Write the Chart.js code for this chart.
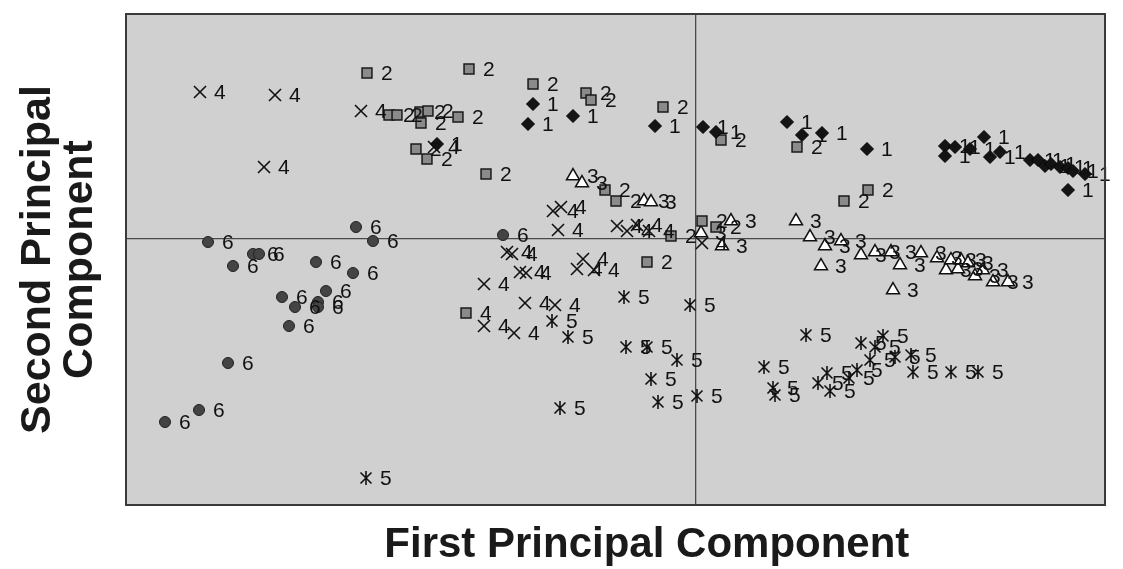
<!DOCTYPE html>
<html><head><meta charset="utf-8">
<script src="https://cdn.jsdelivr.net/npm/chart.js@4.4.1/dist/chart.umd.min.js"></script>
<style>html,body{margin:0;padding:0;background:#fff}#wrap{width:1123px;height:569px;position:relative}</style>
</head><body><div id="wrap"><canvas id="c"></canvas></div>
<script>
const xTitle = 'First Principal Component';
const yTitle = ['Second Principal', 'Component'];
const xRange = [-5.70, 4.09];
const yRange = [-2.66, 2.25];

// [PC1, PC2, optional label]
const group1 = [[-1.63,1.35],[-1.68,1.15],[-1.23,1.23],[-2.59,0.95],[-0.41,1.13],[0.07,1.12],[0.20,1.07],[0.91,1.17],[1.06,1.04],[1.26,1.06],[1.71,0.90],[2.49,0.93],[2.49,0.83],[2.59,0.92],[2.74,0.90],[2.88,1.02],[2.94,0.82],[3.04,0.87],[3.34,0.79],[3.42,0.79],[3.49,0.73],[3.55,0.75],[3.64,0.72],[3.72,0.71],[3.77,0.68],[3.89,0.65],[3.72,0.49]];
const group2 = [[-3.29,1.66],[-2.27,1.70],[-1.63,1.55],[-1.10,1.46],[-1.05,1.39],[-0.33,1.32],[-3.07,1.24],[-2.99,1.24],[-2.76,1.27],[-2.68,1.28],[-2.75,1.16],[-2.38,1.22],[-2.80,0.90],[-2.69,0.80],[-2.10,0.65],[0.25,0.99],[1.01,0.92],[-0.91,0.49],[-0.80,0.38],[0.06,0.18],[0.20,0.12],[-0.25,0.03],[-0.49,-0.23],[-2.30,-0.74,'4'],[1.48,0.38],[1.72,0.49]];
const group3 = [[-1.23,0.63],[-1.14,0.56],[-0.52,0.38],[-0.45,0.37],[0.05,0.06],[0.35,0.18],[0.26,-0.07],[1.00,0.18],[1.14,0.02],[1.29,-0.07],[1.45,-0.02],[1.25,-0.27],[1.65,-0.16],[1.79,-0.13],[1.95,-0.13],[2.04,-0.26],[2.25,-0.14],[2.41,-0.19],[2.50,-0.31],[2.55,-0.21],[2.62,-0.30],[2.65,-0.21],[2.72,-0.24],[2.79,-0.37],[2.87,-0.31],[2.97,-0.43],[3.12,-0.43],[1.97,-0.51]];
const group4 = [[-4.96,1.47],[-4.21,1.44],[-4.32,0.72],[-3.35,1.28],[-2.62,0.92],[-1.43,0.28],[-1.35,0.32],[-1.38,0.09],[-1.89,-0.13],[-1.84,-0.15],[-1.76,-0.33],[-1.70,-0.34],[-2.12,-0.45],[-1.71,-0.64],[-1.41,-0.66],[-2.12,-0.87],[-1.82,-0.94],[-1.19,-0.30],[-1.13,-0.20],[-1.02,-0.31],[-0.79,0.13],[-0.69,0.08],[-0.59,0.14],[-0.47,0.08],[0.06,-0.04]];
const group5 = [[-1.44,-0.82],[-1.28,-0.98],[-1.36,-1.69],[-3.30,-2.39],[-0.72,-0.58],[-0.06,-0.66],[1.10,-0.96],[-0.70,-1.08],[-0.49,-1.08],[-0.19,-1.21],[-0.45,-1.40],[-0.38,-1.63],[0.01,-1.57],[0.68,-1.28],[0.77,-1.49],[0.79,-1.56],[1.22,-1.44],[1.31,-1.34],[1.34,-1.52],[1.53,-1.39],[1.61,-1.31],[1.65,-1.04],[1.87,-0.97],[1.74,-1.21],[1.79,-1.08],[1.99,-1.18],[2.15,-1.16],[2.17,-1.33],[2.55,-1.33],[2.82,-1.33]];
const group6 = [[-4.88,-0.03],[-4.43,-0.15],[-4.37,-0.15],[-4.63,-0.27],[-3.80,-0.23],[-3.40,0.12],[-3.23,-0.02],[-3.43,-0.34],[-3.70,-0.52],[-4.14,-0.58],[-4.01,-0.68],[-3.78,-0.63],[-3.78,-0.68],[-4.07,-0.87],[-4.68,-1.24],[-4.97,-1.71],[-5.31,-1.83],[-1.93,0.04]];
const groupNames = ['1','2','3','4','5','6'];

function makeStar(){
  const c = document.createElement('canvas'); c.width = 14; c.height = 16;
  const g = c.getContext('2d'); g.strokeStyle = '#111'; g.lineWidth = 1.6;
  g.beginPath(); g.moveTo(1.5,2.5); g.lineTo(12.5,13.5); g.moveTo(12.5,2.5); g.lineTo(1.5,13.5);
  g.moveTo(7,1); g.lineTo(7,15); g.stroke();
  return c;
}

function ds(points, name, style){
  return Object.assign({
    data: points.map(p => ({x: p[0], y: p[1]})),
    pointLabels: points.map(p => p[2] || name),
    showLine: false
  }, style);
}

const datasets = [
  ds(group1, groupNames[0], {pointStyle:'rectRot', pointRadius:6.5, backgroundColor:'#141414', borderColor:'#000', borderWidth:1}),
  ds(group2, groupNames[1], {pointStyle:'rect', pointRadius:7, backgroundColor:'#8a8a8a', borderColor:'#1a1a1a', borderWidth:1.5}),
  ds(group3, groupNames[2], {pointStyle:'triangle', pointRadius:7.5, backgroundColor:'#ffffff', borderColor:'#111', borderWidth:1.5}),
  ds(group4, groupNames[3], {pointStyle:'crossRot', pointRadius:8.5, backgroundColor:'#111', borderColor:'#111', borderWidth:1.6}),
  ds(group5, groupNames[4], {pointStyle:makeStar(), pointRadius:7, backgroundColor:'#111', borderColor:'#111', borderWidth:1.6}),
  ds(group6, groupNames[5], {pointStyle:'circle', pointRadius:5.5, backgroundColor:'#444', borderColor:'#222', borderWidth:1})
];

const fontFamily = '"Liberation Sans", Arial, sans-serif';
const bgPlugin = {
  id: 'plotBg',
  beforeDraw(chart){
    const {ctx, chartArea:a} = chart; ctx.save();
    ctx.fillStyle = '#d0d0d0'; ctx.fillRect(a.left, a.top, a.right-a.left, a.bottom-a.top);
    ctx.restore();
  },
  afterDraw(chart){
    const {ctx, chartArea:a} = chart; ctx.save();
    ctx.strokeStyle = '#3a3a3a'; ctx.lineWidth = 2;
    ctx.strokeRect(a.left, a.top, a.right-a.left, a.bottom-a.top);
    // x-axis title, placed as in the original figure (slightly right of the plot centre)
    ctx.font = 'bold 42px ' + fontFamily; ctx.fillStyle = '#1a1a1a';
    ctx.textAlign = 'center'; ctx.textBaseline = 'middle';
    ctx.fillText(xTitle, a.left + (a.right - a.left) * 0.532, 545);
    ctx.restore();
  }
};
const labelPlugin = {
  id: 'pointLabels',
  afterDatasetsDraw(chart){
    const ctx = chart.ctx; ctx.save();
    ctx.font = '21px ' + fontFamily;
    ctx.fillStyle = '#111'; ctx.textBaseline = 'middle'; ctx.textAlign = 'left';
    chart.data.datasets.forEach((d, i) => {
      const meta = chart.getDatasetMeta(i);
      meta.data.forEach((el, j) => ctx.fillText(d.pointLabels[j], el.x + 14, el.y + 1));
    });
    ctx.restore();
  }
};

const zeroLine = c => c.tick && Math.abs(c.tick.value) < 1e-9 ? '#4a4a4a' : 'rgba(0,0,0,0)';
const titleFont = {family:fontFamily, size:43, weight:'bold', lineHeight:0.98};

new Chart(document.getElementById('c'), {
  type: 'scatter',
  data: {datasets},
  options: {
    responsive: true, maintainAspectRatio: false, animation: false,
    layout: {padding: {left:0, right:18, top:14, bottom:0}},
    plugins: {legend:{display:false}, tooltip:{enabled:false}},
    scales: {
      x: {
        min: xRange[0], max: xRange[1],
        ticks: {display:false, stepSize:1},
        grid: {color: zeroLine, lineWidth:1.3, drawTicks:false},
        border: {display:false},
        title: {display:false, text:xTitle},
        afterFit: s => { s.height = 64; }
      },
      y: {
        min: yRange[0], max: yRange[1],
        ticks: {display:false, stepSize:1},
        grid: {color: zeroLine, lineWidth:1.3, drawTicks:false},
        border: {display:false},
        title: {display:true, text:yTitle, color:'#1a1a1a', font:titleFont, padding:{top:17, bottom:0}},
        afterFit: s => { s.width = 126; }
      }
    }
  },
  plugins: [bgPlugin, labelPlugin]
});
</script>
</body></html>
